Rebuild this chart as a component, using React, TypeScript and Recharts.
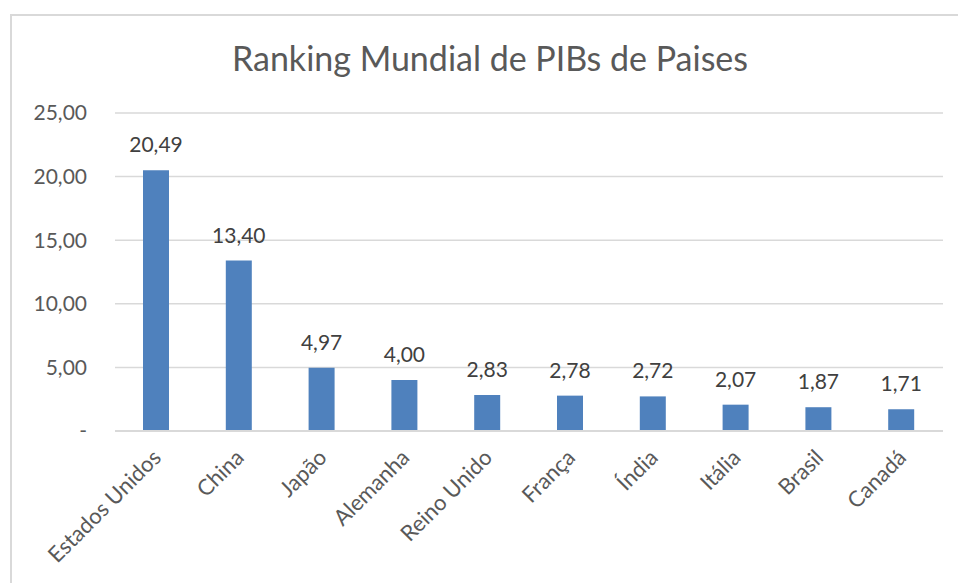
import { Bar, BarChart, CartesianGrid, LabelList, XAxis, YAxis } from "recharts";

const COUNTRIES = [
  "Estados Unidos",
  "China",
  "Japão",
  "Alemanha",
  "Reino Unido",
  "França",
  "Índia",
  "Itália",
  "Brasil",
  "Canadá",
];
const GDP = [20.49, 13.4, 4.97, 4.0, 2.83, 2.78, 2.72, 2.07, 1.87, 1.71];
const Y_TICKS = [0, 5, 10, 15, 20, 25];

const FONT = "Lato, 'Open Sans', sans-serif";
const TEXT = "#595959";
const GRID = "#d9d9d9";
const BAR = "#4f81bd";

const data = COUNTRIES.map((name, i) => ({ name, value: GDP[i] }));

const fmt = (v: number) => (v === 0 ? "-" : v.toFixed(2).replace(".", ","));

function CountryTick({ x, y, payload }: any) {
  const tx = x + 6;
  const ty = y + 20;
  return (
    <text
      x={tx}
      y={ty}
      transform={`rotate(-45 ${tx} ${ty})`}
      textAnchor="end"
      fontSize={22}
      fontFamily={FONT}
      fill={TEXT}
    >
      {payload.value}
    </text>
  );
}

export default function App() {
  return (
    <div
      style={{
        position: "absolute",
        left: 0,
        top: 0,
        width: 958,
        height: 583,
        overflow: "hidden",
        background: "#fff",
      }}
    >
      <div
        style={{
          position: "absolute",
          left: 10,
          top: 14,
          width: 960,
          height: 600,
          borderLeft: `2px solid ${GRID}`,
          borderTop: `2px solid ${GRID}`,
        }}
      />
      <div
        style={{
          position: "absolute",
          left: 0,
          top: 37,
          width: 980,
          textAlign: "center",
          fontFamily: FONT,
          fontSize: 34,
          color: TEXT,
        }}
      >
        Ranking Mundial de PIBs de Paises
      </div>
      <div style={{ position: "absolute", left: 0, top: 0 }}>
        <BarChart
          width={958}
          height={583}
          data={data}
          margin={{ top: 113, right: 15, left: 0, bottom: 0 }}
          barSize={26}
        >
          <CartesianGrid stroke={GRID} strokeWidth={1.5} vertical={false} />
          <XAxis
            dataKey="name"
            interval={0}
            tick={<CountryTick />}
            tickLine={false}
            axisLine={{ stroke: GRID, strokeWidth: 2 }}
            height={152}
          />
          <YAxis
            width={115}
            domain={[0, 25]}
            ticks={Y_TICKS}
            tickFormatter={fmt}
            tickLine={false}
            tickSize={0}
            tickMargin={28}
            axisLine={false}
            tick={{ fontSize: 21, fontFamily: FONT, fill: TEXT }}
          />
          <Bar dataKey="value" fill={BAR} isAnimationActive={false}>
            <LabelList
              dataKey="value"
              position="top"
              offset={18}
              formatter={(v: any) => fmt(Number(v))}
              style={{ fontSize: 21, fontFamily: FONT, fill: "#404040" }}
            />
          </Bar>
        </BarChart>
      </div>
    </div>
  );
}
